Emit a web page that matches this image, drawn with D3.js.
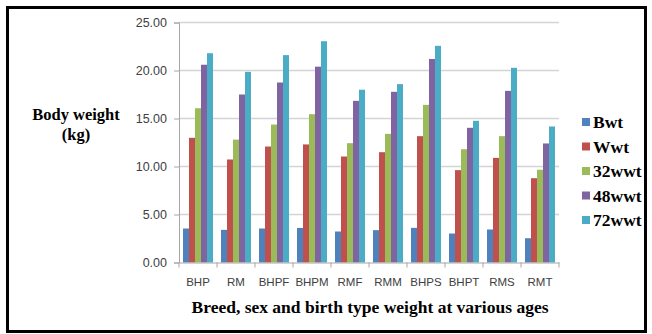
<!DOCTYPE html>
<html><head><meta charset="utf-8">
<script src="https://cdn.jsdelivr.net/npm/d3@7"></script>
<style>body{margin:0;background:#fff}svg{display:block}</style>
</head><body>
<script>
const categories = ["BHP","RM","BHPF","BHPM","RMF","RMM","BHPS","BHPT","RMS","RMT"];
const seriesNames = ["Bwt","Wwt","32wwt","48wwt","72wwt"];
const bwt   = [3.54,3.40,3.54,3.60,3.23,3.37,3.61,3.02,3.44,2.53];
const wwt   = [12.99,10.73,12.08,12.30,11.04,11.49,13.16,9.62,10.90,8.78];
const w32   = [16.07,12.80,14.37,15.45,12.43,13.40,16.42,11.80,13.16,9.66];
const w48   = [20.60,17.50,18.75,20.40,16.84,17.78,21.20,14.03,17.88,12.40];
const w72   = [21.80,19.86,21.60,23.05,18.00,18.58,22.57,14.76,20.28,14.17];
const yTicks = [0,5,10,15,20,25];
const colors = ["#4F81BD","#C0504D","#9BBB59","#8064A2","#4BACC6"];
const seriesValues = [bwt, wwt, w32, w48, w72];

(function(){
const W = 652, H = 334;
const svg = d3.select("body").append("svg").attr("width", W).attr("height", H);

svg.append("rect").attr("x",7.5).attr("y",7.5).attr("width",638).attr("height",324)
  .attr("fill","#fff").attr("stroke","#000").attr("stroke-width",3);

const pLeft = 179, pRight = 559, pTop = 22.5, pBottom = 262.5;
const x0 = d3.scaleBand().domain(categories).range([pLeft, pRight]).padding(0);
const x1 = d3.scaleBand().domain(seriesNames).range([0, x0.bandwidth()]).paddingInner(0).paddingOuter(0.667);
const y = d3.scaleLinear().domain([0,25]).range([pBottom, pTop]);
const color = d3.scaleOrdinal().domain(seriesNames).range(colors);

svg.append("g").selectAll("line").data(yTicks.filter(d=>d>0)).join("line")
  .attr("x1", pLeft).attr("x2", pRight).attr("y1", d=>y(d)).attr("y2", d=>y(d))
  .attr("stroke","#d4d4d4").attr("stroke-width",1.5);

const g = svg.append("g");
categories.forEach((c, i) => {
  seriesNames.forEach((s, j) => {
    const v = seriesValues[j][i];
    g.append("rect")
      .attr("x", x0(c) + x1(s))
      .attr("y", y(v))
      .attr("width", x1.bandwidth())
      .attr("height", y(0) - y(v))
      .attr("fill", color(s));
  });
});

const sans = "'Liberation Sans', Arial, sans-serif";
const yAxis = svg.append("g").attr("transform", `translate(${pLeft},0)`)
  .call(d3.axisLeft(y).tickValues(yTicks).tickFormat(d3.format(".2f")).tickSize(5).tickPadding(7));
yAxis.select(".domain").attr("stroke","#a6a6a6");
yAxis.selectAll(".tick line").attr("stroke","#a6a6a6");
yAxis.selectAll("text").attr("fill","#404040").style("font-family",sans).style("font-size","12.5px");

const xAxis = svg.append("g").attr("transform", `translate(0,${pBottom})`)
  .call(d3.axisBottom(x0).tickSize(0).tickPadding(15));
xAxis.select(".domain").attr("stroke","#a6a6a6");
xAxis.selectAll("text").attr("fill","#404040").style("font-family",sans).style("font-size","11.5px");
svg.append("g").selectAll("line").data(d3.range(categories.length+1)).join("line")
  .attr("x1", i => pLeft + i*x0.step()).attr("x2", i => pLeft + i*x0.step())
  .attr("y1", pBottom).attr("y2", pBottom+5).attr("stroke","#a6a6a6");

const serif = "'Liberation Serif', 'Times New Roman', serif";
svg.append("text").attr("x", 76).attr("y", 120).attr("text-anchor","middle")
  .style("font-family", serif).style("font-weight","bold").style("font-size","16.5px").text("Body weight");
svg.append("text").attr("x", 76).attr("y", 140).attr("text-anchor","middle")
  .style("font-family", serif).style("font-weight","bold").style("font-size","16.5px").text("(kg)");
svg.append("text").attr("x", 370).attr("y", 313).attr("text-anchor","middle")
  .style("font-family", serif).style("font-weight","bold").style("font-size","17.5px")
  .text("Breed, sex and birth type weight at various ages");

const lg = svg.append("g");
const legendY = d3.scalePoint().domain(seriesNames).range([122, 220]);
seriesNames.forEach(s => {
  lg.append("rect").attr("x", 582).attr("y", legendY(s)-4).attr("width", 8).attr("height", 8).attr("fill", color(s));
  lg.append("text").attr("x", 593).attr("y", legendY(s)).attr("dy","0.35em")
    .style("font-family", serif).style("font-weight","bold").style("font-size","17.5px").text(s);
});
})();
</script>
</body></html>
